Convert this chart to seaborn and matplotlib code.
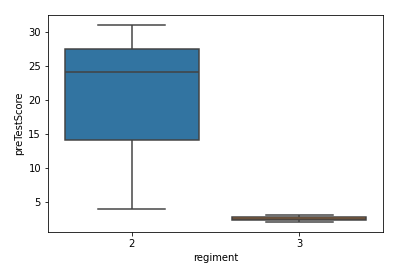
import matplotlib
matplotlib.use("Agg")
import matplotlib.pyplot as plt
import seaborn as sns
import pandas as pd

regiment = [2, 2, 2, 3, 3]
preTestScore = [4, 24, 31, 2, 3]

df = pd.DataFrame({"regiment": regiment, "preTestScore": preTestScore})

fig = plt.figure(figsize=(400 / 72, 272 / 72), dpi=72)
ax = fig.add_axes([0.12, 0.147, 0.8375, 0.798])
sns.boxplot(data=df, x="regiment", y="preTestScore", hue="regiment",
            palette=["#1f77b4", "#ff7f0e"], legend=False,
            linecolor="0.26", linewidth=1.5, ax=ax)
fig.savefig("out.png", dpi=72)
